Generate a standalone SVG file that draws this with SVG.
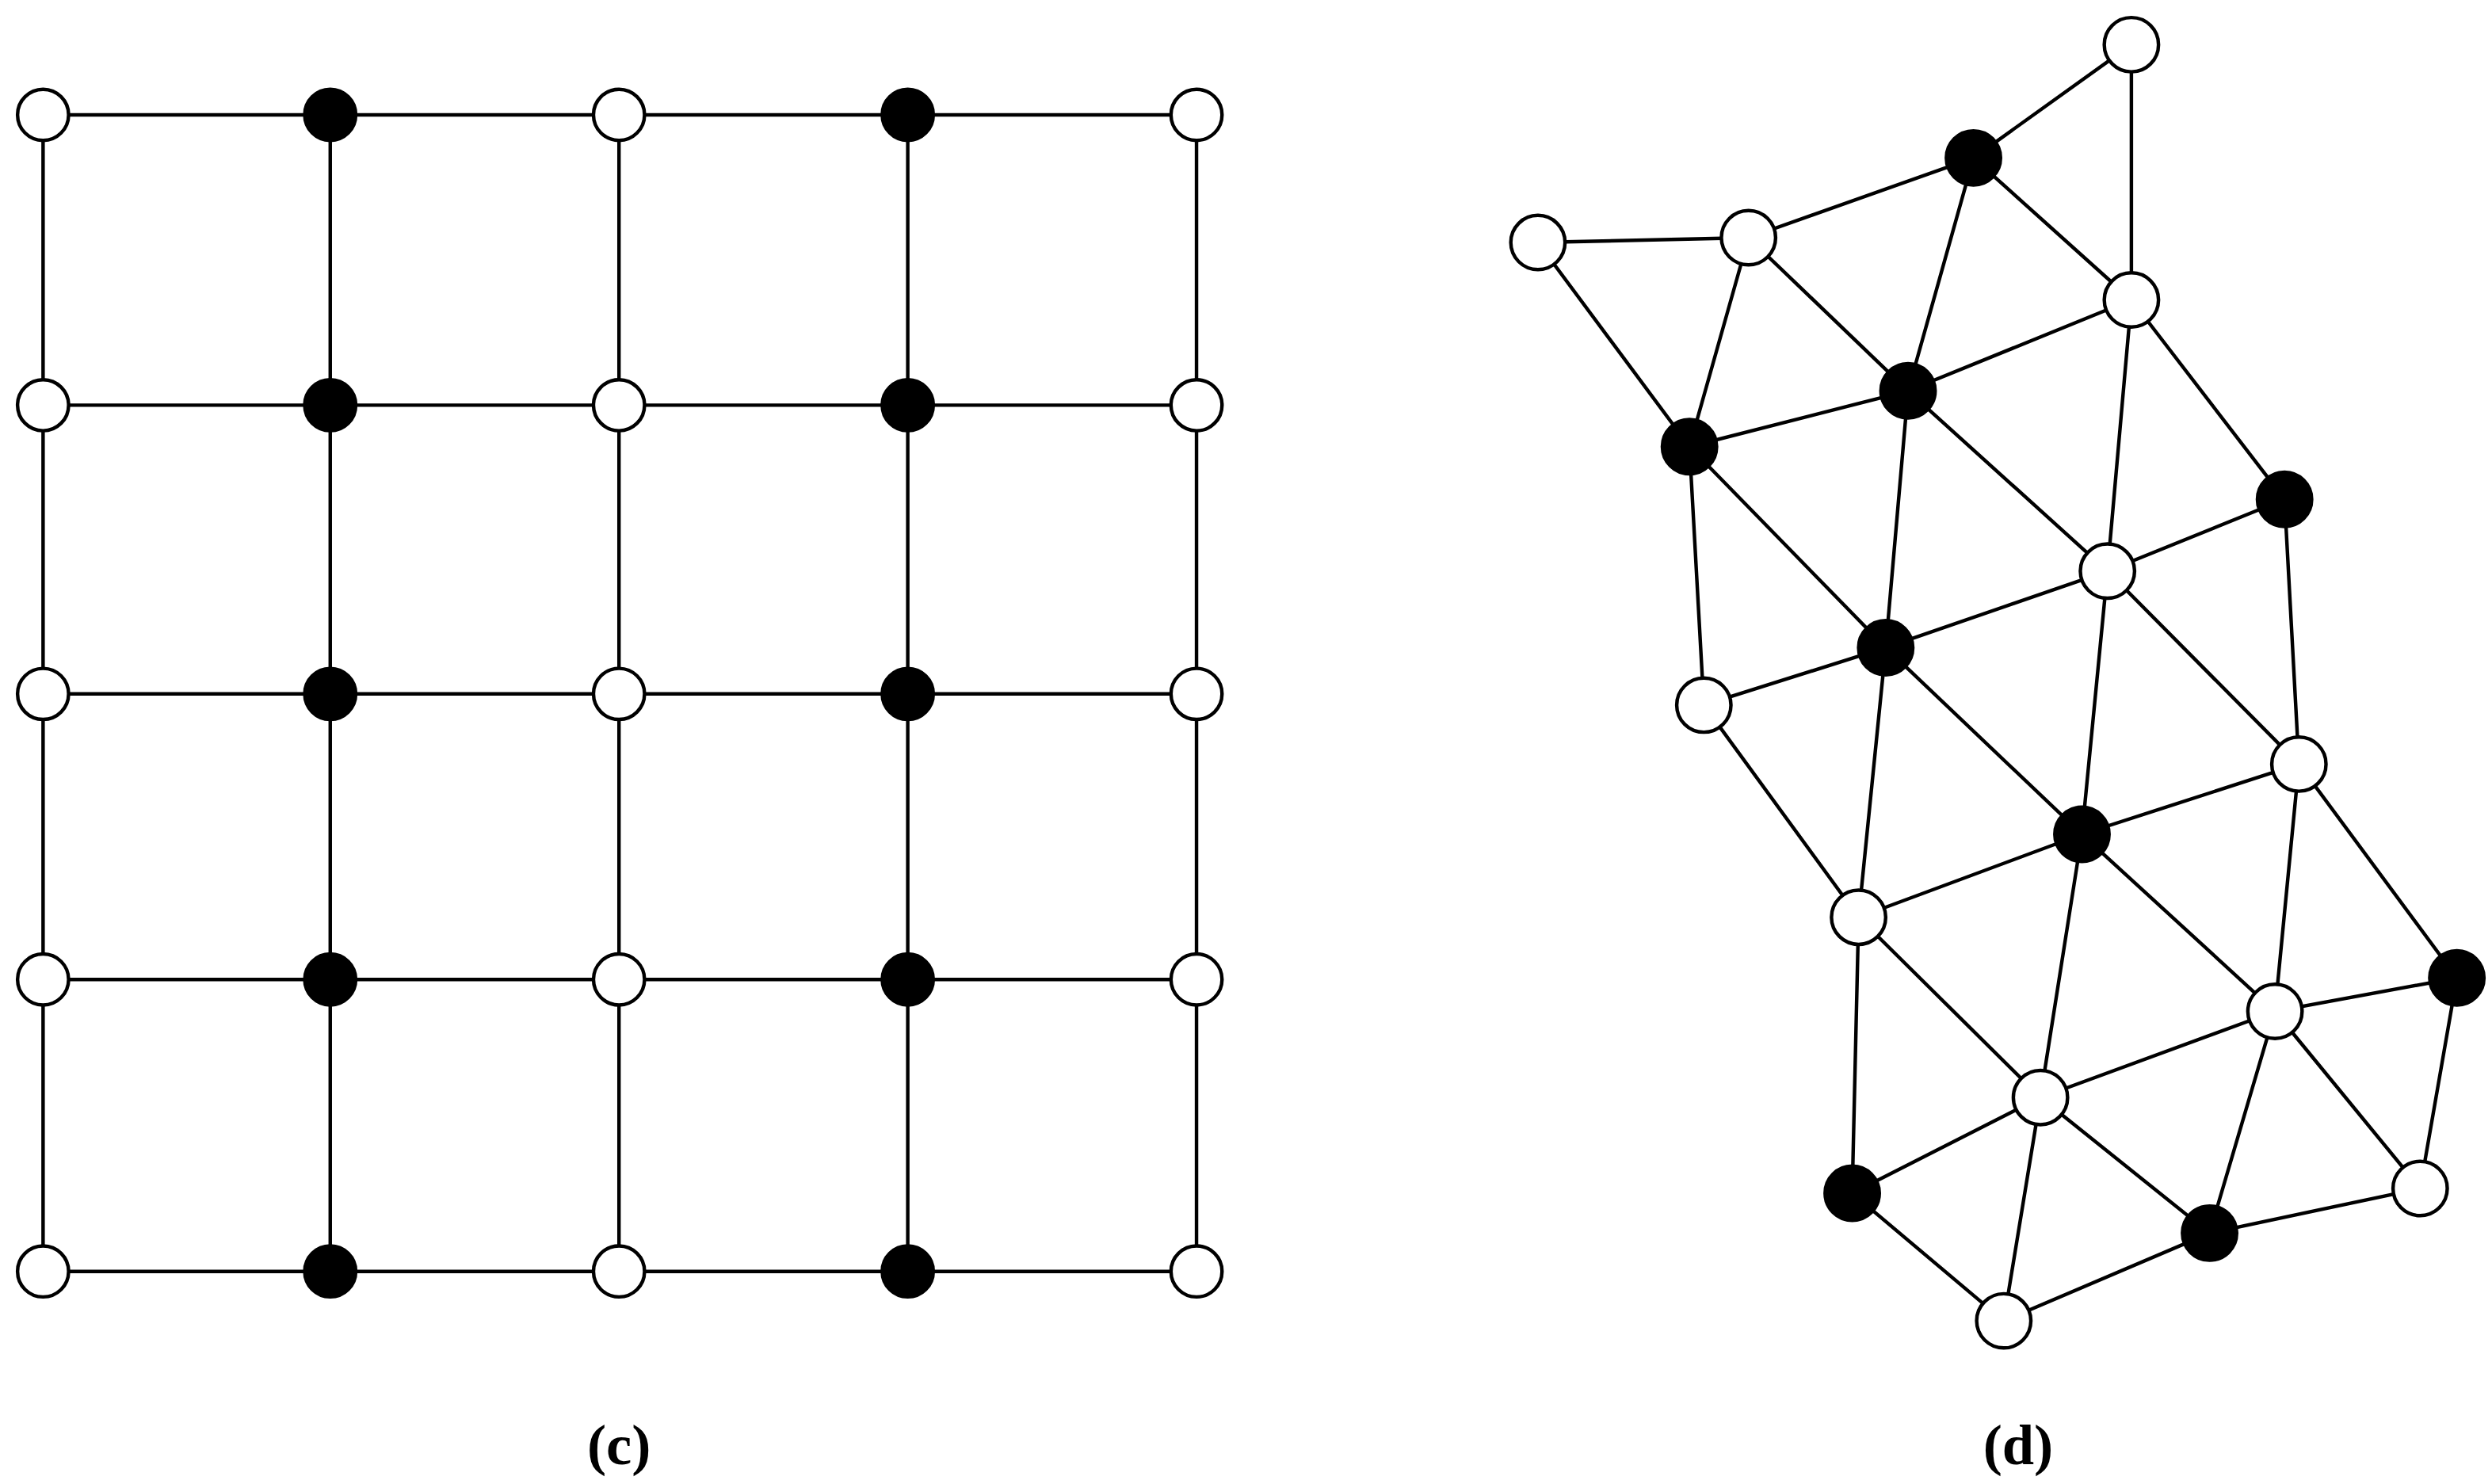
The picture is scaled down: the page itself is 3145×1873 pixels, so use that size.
<svg xmlns="http://www.w3.org/2000/svg" width="3145" height="1873" viewBox="0 0 3145 1873">
<style>
.e{stroke:#000;stroke-width:2.2;fill:none}
.w{fill:#fff;stroke:#000;stroke-width:2.2}
.b{fill:#000;stroke:#000;stroke-width:2.2}
.t{font-family:"Liberation Serif",serif;font-size:36px;font-weight:bold;text-anchor:middle}
</style>
<rect width="3145" height="1873" fill="#fff"/>
<g transform="scale(2.0134)">
<g id="connectors">
<path class="e" d="M27 72H750M27 254H750M27 435H750M27 614H750M27 797H750M27 72V797M207 72V797M388 72V797M569 72V797M750 72V797"/>
<path class="e" d="M1336 28L1237 99M1336 28L1336 188M1237 99L1096 149M1237 99L1336 188M1237 99L1196 245M964 152L1096 149M964 152L1059 280M1096 149L1059 280M1096 149L1196 245M1336 188L1196 245M1336 188L1321 358M1336 188L1432 313M1196 245L1059 280M1196 245L1321 358M1196 245L1182 406M1059 280L1182 406M1059 280L1068 442M1432 313L1321 358M1432 313L1441 479M1321 358L1182 406M1321 358L1441 479M1321 358L1305 523M1182 406L1068 442M1182 406L1305 523M1182 406L1165 575M1068 442L1165 575M1441 479L1305 523M1441 479L1540 613M1441 479L1426 634M1305 523L1165 575M1305 523L1426 634M1305 523L1279 688M1165 575L1279 688M1165 575L1161 748M1540 613L1426 634M1540 613L1517 745M1426 634L1279 688M1426 634L1385 773M1426 634L1517 745M1279 688L1161 748M1279 688L1385 773M1279 688L1256 828M1161 748L1256 828M1517 745L1385 773M1385 773L1256 828"/>
</g>
<g id="grid">
<circle class="w" cx="27" cy="72" r="16"/><circle class="b" cx="207" cy="72" r="16"/><circle class="w" cx="388" cy="72" r="16"/><circle class="b" cx="569" cy="72" r="16"/><circle class="w" cx="750" cy="72" r="16"/>
<circle class="w" cx="27" cy="254" r="16"/><circle class="b" cx="207" cy="254" r="16"/><circle class="w" cx="388" cy="254" r="16"/><circle class="b" cx="569" cy="254" r="16"/><circle class="w" cx="750" cy="254" r="16"/>
<circle class="w" cx="27" cy="435" r="16"/><circle class="b" cx="207" cy="435" r="16"/><circle class="w" cx="388" cy="435" r="16"/><circle class="b" cx="569" cy="435" r="16"/><circle class="w" cx="750" cy="435" r="16"/>
<circle class="w" cx="27" cy="614" r="16"/><circle class="b" cx="207" cy="614" r="16"/><circle class="w" cx="388" cy="614" r="16"/><circle class="b" cx="569" cy="614" r="16"/><circle class="w" cx="750" cy="614" r="16"/>
<circle class="w" cx="27" cy="797" r="16"/><circle class="b" cx="207" cy="797" r="16"/><circle class="w" cx="388" cy="797" r="16"/><circle class="b" cx="569" cy="797" r="16"/><circle class="w" cx="750" cy="797" r="16"/>
</g>
<g id="mesh">
<circle class="w" cx="1336" cy="28" r="17"/><circle class="b" cx="1237" cy="99" r="17"/><circle class="w" cx="964" cy="152" r="17"/><circle class="w" cx="1096" cy="149" r="17"/><circle class="w" cx="1336" cy="188" r="17"/><circle class="b" cx="1196" cy="245" r="17"/><circle class="b" cx="1059" cy="280" r="17"/><circle class="b" cx="1432" cy="313" r="17"/><circle class="w" cx="1321" cy="358" r="17"/><circle class="b" cx="1182" cy="406" r="17"/><circle class="w" cx="1068" cy="442" r="17"/><circle class="w" cx="1441" cy="479" r="17"/><circle class="b" cx="1305" cy="523" r="17"/><circle class="w" cx="1165" cy="575" r="17"/><circle class="b" cx="1540" cy="613" r="17"/><circle class="w" cx="1426" cy="634" r="17"/><circle class="w" cx="1279" cy="688" r="17"/><circle class="b" cx="1161" cy="748" r="17"/><circle class="w" cx="1517" cy="745" r="17"/><circle class="b" cx="1385" cy="773" r="17"/><circle class="w" cx="1256" cy="828" r="17"/>
</g>
<text class="t" x="388" y="918">(c)</text>
<text class="t" x="1265" y="918">(d)</text>
</g>
</svg>
